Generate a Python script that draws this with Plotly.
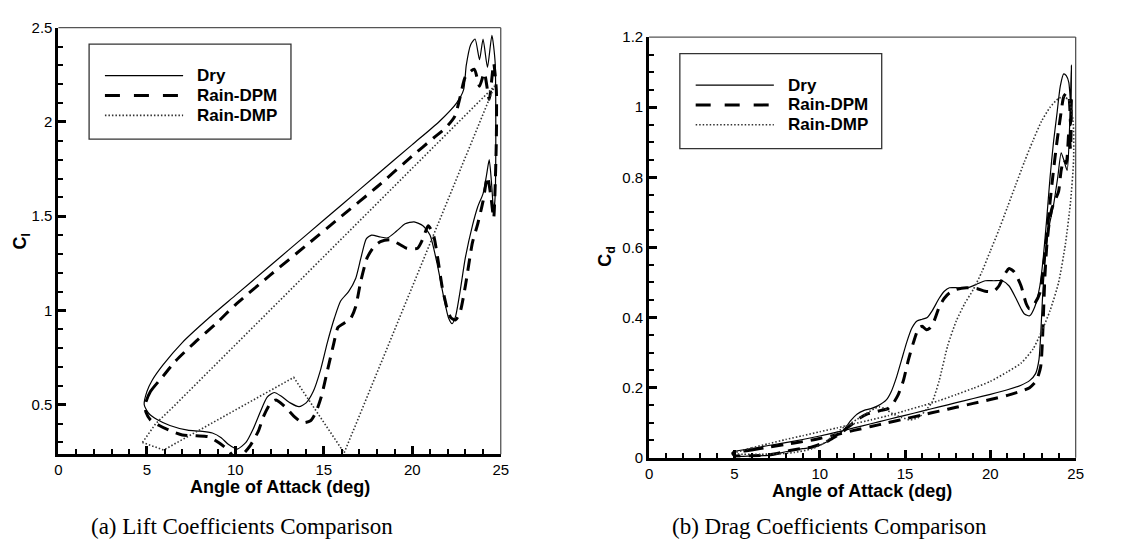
import plotly.graph_objects as go

# ---------------- data ----------------
# (a) lift coefficient loops: angle of attack (deg) and Cl
cl_dry_aoa = [4.85, 5.0, 5.3, 5.9, 7.0, 8.5, 10.0, 12.0, 14.0, 16.0, 18.0, 20.0, 21.5, 22.5, 22.9, 23.05,
              23.3, 23.55, 23.8, 24.0, 24.25, 24.5, 24.68, 24.72, 24.68, 24.6, 24.5, 24.35, 24.2, 24.0, 23.7,
              23.4, 23.0, 22.7, 22.45, 22.25, 22.05, 21.8, 21.4, 21.0, 20.6, 20.1, 19.6, 19.1, 18.6, 18.2,
              17.7, 17.4, 17.1, 16.8, 16.4, 15.95, 15.6, 15.2, 14.8, 14.4, 14.0, 13.6, 13.1, 12.6, 12.2, 11.8,
              11.4, 11.0, 10.6, 10.1, 9.6, 9.2, 8.7, 8.0, 7.3, 6.3, 5.6, 5.1, 4.85]
cl_dry = [0.50, 0.57, 0.63, 0.71, 0.83, 0.96, 1.08, 1.24, 1.40, 1.56, 1.72, 1.88, 2.00, 2.10, 2.17, 2.30,
          2.41, 2.44, 2.33, 2.44, 2.29, 2.46, 2.32, 2.00, 1.60, 1.52, 1.65, 1.80, 1.72, 1.62, 1.55,
          1.45, 1.28, 1.10, 0.97, 0.93, 0.96, 1.06, 1.25, 1.40, 1.45, 1.47, 1.46, 1.42, 1.385, 1.39,
          1.40, 1.38, 1.28, 1.17, 1.10, 1.05, 0.96, 0.83, 0.68, 0.57, 0.51, 0.49, 0.51, 0.545, 0.565, 0.54,
          0.46, 0.37, 0.30, 0.265, 0.29, 0.325, 0.35, 0.36, 0.365, 0.39, 0.42, 0.455, 0.50]

cl_dpm_aoa = [4.9, 5.2, 5.9, 6.6, 7.7, 8.9, 10.0, 12.0, 14.0, 16.0, 18.0, 20.0, 21.2, 21.9, 22.4, 22.7,
              23.0, 23.5, 23.8, 24.07, 24.35, 24.6, 24.75, 24.75, 24.6, 24.45, 24.25, 24.0, 23.7, 23.4, 23.0,
              22.7, 22.45, 22.2, 22.0, 21.7, 21.45, 21.2, 20.9, 20.6, 20.3, 19.7, 19.3, 18.75, 18.2, 17.85,
              17.45, 17.1, 16.8, 16.5, 16.1, 15.8, 15.55, 15.2, 14.85, 14.55, 14.25, 13.8, 13.3, 12.8, 12.3,
              12.0, 11.6, 11.3, 10.85, 10.45, 10.0, 9.6, 9.05, 8.5, 7.8, 7.0, 6.25, 5.7, 5.2, 4.95, 4.9]
cl_dpm = [0.50, 0.57, 0.65, 0.73, 0.83, 0.93, 1.03, 1.19, 1.345, 1.50, 1.655, 1.82, 1.915, 1.97, 2.03, 2.13,
          2.24, 2.28, 2.19, 2.26, 2.12, 2.31, 2.17, 1.90, 1.49, 1.60, 1.71, 1.58, 1.46, 1.36, 1.13,
          0.99, 0.95, 0.96, 1.00, 1.12, 1.27, 1.40, 1.45, 1.38, 1.33, 1.33, 1.35, 1.375, 1.365, 1.34,
          1.28, 1.16, 1.02, 0.955, 0.93, 0.91, 0.82, 0.68, 0.54, 0.46, 0.415, 0.405, 0.44, 0.49, 0.525,
          0.51, 0.44, 0.36, 0.285, 0.24, 0.215, 0.26, 0.30, 0.33, 0.335, 0.34, 0.365, 0.39, 0.42, 0.46, 0.50]

cl_dmp_aoa = [4.75, 5.5, 6.5, 24.65, 16.15, 13.3, 5.95, 4.75]
cl_dmp = [0.30, 0.40, 0.49, 2.19, 0.245, 0.645, 0.26, 0.30]

# (b) drag coefficient loops: angle of attack (deg) and Cd
cd_dry_aoa = [4.9, 6.0, 7.0, 8.0, 9.0, 10.0, 11.0, 12.0, 13.0, 14.0, 15.0, 16.0, 17.0, 18.0, 19.0, 20.0,
              21.0, 21.8, 22.3, 22.65, 22.85, 22.95, 23.05, 23.2, 23.4, 23.7, 23.95, 24.15, 24.3, 24.5, 24.65,
              24.75, 24.72, 24.6, 24.45, 24.3, 24.1, 23.9, 23.7, 23.5, 23.3, 23.1, 22.9, 22.6, 22.3, 22.0,
              21.8, 21.5, 21.1, 20.7, 20.2, 19.7, 19.2, 18.7, 18.1, 17.6, 17.3, 17.0, 16.6, 16.3, 16.0, 15.7,
              15.4, 15.1, 14.8, 14.5, 14.2, 13.9, 13.4, 13.0, 12.6, 12.2, 11.8, 11.5, 11.2, 10.8, 10.4, 10.0,
              9.5, 9.0, 8.5, 8.0, 7.5, 7.0, 6.0, 5.0, 4.9]
cd_dry = [0.016, 0.026, 0.035, 0.043, 0.052, 0.062, 0.073, 0.085, 0.097, 0.109, 0.121, 0.133, 0.145, 0.157,
          0.169, 0.181, 0.194, 0.207, 0.22, 0.24, 0.28, 0.35, 0.45, 0.56, 0.65, 0.72, 0.80, 0.87, 0.85, 0.82,
          0.95, 1.12, 1.00, 1.07, 1.09, 1.095, 1.06, 0.98, 0.90, 0.80, 0.68, 0.57, 0.49, 0.43, 0.405, 0.41,
          0.425, 0.455, 0.49, 0.505, 0.505, 0.505, 0.495, 0.485, 0.485, 0.485, 0.475, 0.455, 0.42, 0.40,
          0.395, 0.39, 0.37, 0.33, 0.28, 0.23, 0.19, 0.165, 0.148, 0.14, 0.135, 0.125, 0.105, 0.085, 0.07,
          0.058, 0.045, 0.036, 0.029, 0.026, 0.022, 0.017, 0.011, 0.007, 0.005, 0.005, 0.016]

cd_dpm_aoa = [4.9, 6.0, 7.0, 8.0, 9.0, 10.0, 11.0, 12.0, 13.0, 14.0, 15.0, 16.0, 17.0, 18.0, 19.0, 20.0,
              21.0, 21.8, 22.3, 22.7, 22.95, 23.05, 23.12, 23.2, 23.3, 23.45, 23.6, 23.8, 24.0, 24.15, 24.3,
              24.45, 24.6, 24.7, 24.75, 24.7, 24.6, 24.45, 24.3, 24.1, 23.9, 23.7, 23.5, 23.3, 23.1, 22.9,
              22.6, 22.3, 22.1, 21.8, 21.4, 21.1, 20.8, 20.5, 20.2, 19.7, 19.2, 18.6, 18.0, 17.6, 17.3, 17.0,
              16.7, 16.45, 16.25, 16.0, 15.8, 15.5, 15.2, 14.9, 14.6, 14.3, 14.0, 13.6, 13.2, 12.8, 12.4,
              12.0, 11.6, 11.3, 10.9, 10.5, 10.0, 9.5, 9.0, 8.5, 8.0, 7.5, 7.0, 6.0, 5.0, 4.9]
cd_dpm = [0.013, 0.022, 0.030, 0.038, 0.046, 0.055, 0.066, 0.078, 0.089, 0.100, 0.111, 0.122, 0.133, 0.144,
          0.155, 0.166, 0.178, 0.19, 0.20, 0.22, 0.26, 0.33, 0.42, 0.52, 0.60, 0.67, 0.71, 0.735, 0.76,
          0.82, 0.85, 0.84, 0.93, 0.88, 1.02, 0.95, 1.03, 1.04, 1.03, 0.97, 0.90, 0.82, 0.73, 0.63, 0.54,
          0.47, 0.44, 0.425, 0.44, 0.49, 0.53, 0.54, 0.52, 0.49, 0.475, 0.475, 0.483, 0.485, 0.48, 0.47,
          0.455, 0.43, 0.39, 0.37, 0.365, 0.375, 0.37, 0.33, 0.28, 0.22, 0.18, 0.155, 0.14, 0.135, 0.13,
          0.125, 0.115, 0.10, 0.085, 0.072, 0.06, 0.048, 0.038, 0.03, 0.027, 0.023, 0.018, 0.012, 0.008,
          0.006, 0.006, 0.013]

cd_dmp_aoa = [4.9, 6.0, 7.0, 8.0, 9.0, 10.0, 11.0, 12.0, 13.0, 14.0, 15.0, 16.0, 17.0, 18.0, 19.0, 20.0,
              21.0, 21.8, 22.5, 23.0, 23.5, 24.0, 24.4, 24.7, 24.88, 24.85, 24.6, 24.3, 24.0, 23.5, 23.0,
              22.5, 22.0, 21.5, 21.0, 20.5, 20.0, 19.5, 19.0, 18.5, 18.0, 17.5, 17.0, 16.6, 16.3, 15.8, 15.3,
              14.8, 14.3, 13.8, 13.5, 13.2, 12.7, 12.2, 11.7, 11.2, 10.7, 10.2, 9.5, 8.5, 7.5, 6.5, 5.5, 4.9]
cd_dmp = [0.012, 0.028, 0.040, 0.052, 0.063, 0.074, 0.085, 0.097, 0.108, 0.12, 0.134, 0.148, 0.163, 0.18,
          0.198, 0.218, 0.245, 0.27, 0.31, 0.36, 0.42, 0.50, 0.61, 0.73, 0.85, 0.96, 1.02, 1.03, 1.025,
          1.0, 0.96, 0.905, 0.845, 0.78, 0.715, 0.65, 0.59, 0.53, 0.48, 0.44, 0.39, 0.32, 0.22, 0.16,
          0.14, 0.115, 0.108, 0.115, 0.125, 0.14, 0.145, 0.14, 0.125, 0.11, 0.095, 0.08, 0.06, 0.04,
          0.025, 0.015, 0.011, 0.010, 0.010, 0.012]

series_names = ["Dry", "Rain-DPM", "Rain-DMP"]
x_title = "Angle of Attack (deg)"
captions = ["(a) Lift Coefficients Comparison", "(b) Drag Coefficients Comparison"]

# ---------------- styles / layout ----------------
W, H = 1146, 552
SANS = "Liberation Sans, Arial, sans-serif"
SERIF = "Liberation Serif, Times New Roman, serif"
FRAMES = {  # pixel frame of each plot area: left, right, top, bottom
    "1": (55, 502, 19.3, 459.3),
    "2": (652, 1083, 29, 463),
}
STYLES = [
    dict(color="black", width=1.2, dash="solid"),
    dict(color="black", width=3, dash="12px,8px"),
    dict(color="#333333", width=1.6, dash="1.5px,2px"),
]
LIFT_SHAPES = ["spline", "spline", "linear"]
DRAG_SHAPES = ["spline", "spline", "spline"]

fig = go.Figure()

lift = [(cl_dry_aoa, cl_dry), (cl_dpm_aoa, cl_dpm), (cl_dmp_aoa, cl_dmp)]
drag = [(cd_dry_aoa, cd_dry), (cd_dpm_aoa, cd_dpm), (cd_dmp_aoa, cd_dmp)]

for i, (xs, ys) in enumerate(lift):
    fig.add_trace(go.Scatter(x=xs, y=ys, mode="lines", name=series_names[i], showlegend=False,
                             line=dict(shape=LIFT_SHAPES[i], smoothing=0.6, **STYLES[i]),
                             xaxis="x", yaxis="y"))
for i, (xs, ys) in enumerate(drag):
    fig.add_trace(go.Scatter(x=xs, y=ys, mode="lines", name=series_names[i], showlegend=False,
                             line=dict(shape=DRAG_SHAPES[i], smoothing=0.6, **STYLES[i]),
                             xaxis="x2", yaxis="y2"))


def axis_common():
    return dict(showline=True, linecolor="black", linewidth=3, mirror=False,
                ticks="inside", ticklen=8, tickwidth=2.5, tickcolor="black",
                showgrid=False, zeroline=False,
                tickfont=dict(family=SANS, size=15, color="black"))


def dom(key):
    l, r, t, b = FRAMES[key]
    return [l / W, r / W], [1 - b / H, 1 - t / H]


xd1, yd1 = dom("1")
xd2, yd2 = dom("2")

fig.update_layout(
    width=W, height=H, margin=dict(l=0, r=0, t=0, b=0),
    paper_bgcolor="white", plot_bgcolor="white", showlegend=False,
    xaxis=dict(domain=xd1, range=[0, 25], dtick=5, tick0=0, anchor="y",
               minor=dict(dtick=1, tick0=0, ticks="inside", ticklen=5, tickwidth=1.5, tickcolor="black"),
               **axis_common()),
    yaxis=dict(domain=yd1, range=[0.238, 2.5], dtick=0.5, tick0=0, anchor="x",
               minor=dict(dtick=0.1, tick0=0, ticks="inside", ticklen=5, tickwidth=1.5, tickcolor="black"),
               **axis_common()),
    xaxis2=dict(domain=xd2, range=[0, 25], dtick=5, tick0=0, anchor="y2",
                minor=dict(dtick=1, tick0=0, ticks="inside", ticklen=5, tickwidth=1.5, tickcolor="black"),
                **axis_common()),
    yaxis2=dict(domain=yd2, range=[0, 1.2], dtick=0.2, tick0=0, anchor="x2",
                minor=dict(dtick=0.05, tick0=0, ticks="inside", ticklen=5, tickwidth=1.5, tickcolor="black"),
                **axis_common()),
)

# thin top / right frame lines
for xr, yr in [("x domain", "y domain"), ("x2 domain", "y2 domain")]:
    fig.add_shape(type="line", xref=xr, yref=yr, x0=0, x1=1, y0=1, y1=1,
                  line=dict(color="#555555", width=1.3))
    fig.add_shape(type="line", xref=xr, yref=yr, x0=1, x1=1, y0=0, y1=1,
                  line=dict(color="#555555", width=1.3))


# custom legend box, built in pixel offsets relative to each plot frame
def add_legend(key, xr, yr):
    l, r, t, b = FRAMES[key]
    fx = lambda px: (px - l) / (r - l)
    fy = lambda py: (b - py) / (b - t)
    bx0 = l + 31
    by0 = t + 17
    bx1 = bx0 + 204
    by1 = by0 + 98
    fig.add_shape(type="rect", xref=xr, yref=yr, x0=fx(bx0), x1=fx(bx1), y0=fy(by1), y1=fy(by0),
                  line=dict(color="#333333", width=1.3), fillcolor="white", layer="above")
    for i, dy in enumerate([32.5, 53, 73.5]):
        yy = fy(by0 + dy)
        st = STYLES[i]
        dash = "15px,14px" if i == 1 else st["dash"]
        fig.add_shape(type="line", xref=xr, yref=yr, x0=fx(bx0 + 16), x1=fx(bx0 + 95), y0=yy, y1=yy,
                      line=dict(color=st["color"], width=st["width"], dash=dash), layer="above")
        fig.add_annotation(xref=xr, yref=yr, x=fx(bx0 + 107), y=yy, xanchor="left", yanchor="middle",
                           text="<b>%s</b>" % series_names[i], showarrow=False,
                           font=dict(family=SANS, size=17, color="black"))


add_legend("1", "x domain", "y domain")
add_legend("2", "x2 domain", "y2 domain")

# axis titles
fig.add_annotation(xref="paper", yref="paper", x=278.5 / W, y=1 - 493 / H, text="<b>%s</b>" % x_title,
                   showarrow=False, xanchor="center", yanchor="middle",
                   font=dict(family=SANS, size=18, color="black"))
fig.add_annotation(xref="paper", yref="paper", x=867.5 / W, y=1 - 497 / H, text="<b>%s</b>" % x_title,
                   showarrow=False, xanchor="center", yanchor="middle",
                   font=dict(family=SANS, size=18, color="black"))
fig.add_annotation(xref="paper", yref="paper", x=18 / W, y=1 - 239 / H, text="<b>C<sub>l</sub></b>",
                   showarrow=False, textangle=-90, xanchor="center", yanchor="middle",
                   font=dict(family=SANS, size=18, color="black"))
fig.add_annotation(xref="paper", yref="paper", x=609 / W, y=1 - 255 / H, text="<b>C<sub>d</sub></b>",
                   showarrow=False, textangle=-90, xanchor="center", yanchor="middle",
                   font=dict(family=SANS, size=18, color="black"))

# captions
fig.add_annotation(xref="paper", yref="paper", x=241 / W, y=1 - 534 / H, text=captions[0],
                   showarrow=False, xanchor="center", yanchor="middle",
                   font=dict(family=SERIF, size=23, color="black"))
fig.add_annotation(xref="paper", yref="paper", x=834 / W, y=1 - 534 / H, text=captions[1],
                   showarrow=False, xanchor="center", yanchor="middle",
                   font=dict(family=SERIF, size=23, color="black"))

fig.write_html("out.html")
